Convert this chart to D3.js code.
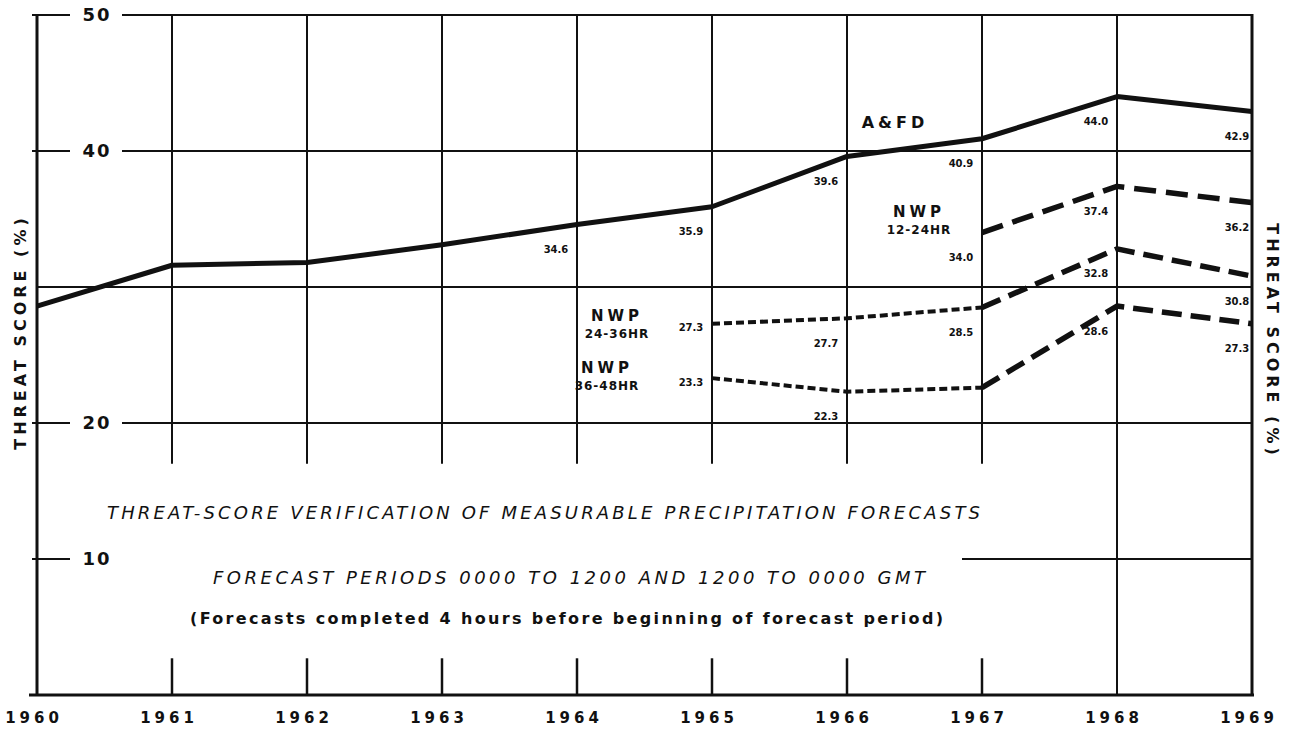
<!DOCTYPE html>
<html>
<head>
<meta charset="utf-8">
<script src="https://cdn.jsdelivr.net/npm/d3@7"></script>
<style>
  body { margin: 0; background: #fff; }
  svg text { font-family: "DejaVu Sans", sans-serif; fill: #111; }
</style>
</head>
<body>
<div id="vis"></div>
<script>
var width = 1290;
var height = 733;

// data
var years = [1960, 1961, 1962, 1963, 1964, 1965, 1966, 1967, 1968, 1969];
var afd = [28.6, 31.6, 31.8, 33.1, 34.6, 35.9, 39.6, 40.9, 44.0, 42.9];
var afd_labels = ["", "", "", "", "34.6", "35.9", "39.6", "40.9", "44.0", "42.9"];

var nwp12_years = [1967, 1968, 1969];
var nwp12 = [34.0, 37.4, 36.2];
var nwp12_labels = ["34.0", "37.4", "36.2"];

var nwp24_years = [1965, 1966, 1967, 1968, 1969];
var nwp24 = [27.3, 27.7, 28.5, 32.8, 30.8];
var nwp24_labels = ["27.3", "27.7", "28.5", "32.8", "30.8"];

var nwp36_years = [1965, 1966, 1967, 1968, 1969];
var nwp36 = [23.3, 22.3, 22.6, 28.6, 27.3];
var nwp36_labels = ["23.3", "22.3", "", "28.6", "27.3"];

var y_ticks = [10, 20, 40, 50];
var grid_values = [10, 20, 30, 40, 50];

var title_lines = [
  "THREAT-SCORE VERIFICATION OF MEASURABLE PRECIPITATION FORECASTS",
  "FORECAST PERIODS 0000 TO 1200 AND 1200 TO 0000 GMT",
  "(Forecasts completed 4 hours before beginning of forecast period)"
];

var x = d3.scaleLinear().domain([1960, 1969]).range([37, 1252]);
var y = d3.scaleLinear().domain([0, 50]).range([695, 15]);

var svg = d3.select("#vis").append("svg")
  .attr("width", width)
  .attr("height", height);

var grid = svg.append("g").attr("stroke", "#111").attr("fill", "none");

// horizontal grid lines, broken where the left tick labels sit
grid_values.forEach(function(v){
  if (v === 30) {
    grid.append("line")
      .attr("x1", x(1960)).attr("x2", x(1969))
      .attr("y1", y(v)).attr("y2", y(v))
      .attr("stroke-width", 2);
    return;
  }
  grid.append("line")
    .attr("x1", x(1960) - 5).attr("x2", x(1960) + 33)
    .attr("y1", y(v)).attr("y2", y(v))
    .attr("stroke-width", 2);
  var restart = v === 10 ? x(1966) + 115 : x(1960) + 85;
  grid.append("line")
    .attr("x1", restart).attr("x2", x(1969))
    .attr("y1", y(v)).attr("y2", y(v))
    .attr("stroke-width", 2);
});

// vertical grid lines: upper part plus a short stub at the bottom
d3.range(1961, 1968).forEach(function(yr){
  grid.append("line")
    .attr("x1", x(yr)).attr("x2", x(yr))
    .attr("y1", y(50)).attr("y2", y(17))
    .attr("stroke-width", 2);
  grid.append("line")
    .attr("x1", x(yr)).attr("x2", x(yr))
    .attr("y1", y(2.7)).attr("y2", y(0))
    .attr("stroke-width", 2.5);
});
grid.append("line")
  .attr("x1", x(1968)).attr("x2", x(1968))
  .attr("y1", y(50)).attr("y2", y(0))
  .attr("stroke-width", 2);

// frame
grid.append("line")
  .attr("x1", x(1960)).attr("x2", x(1960))
  .attr("y1", y(50) - 1).attr("y2", y(0) + 1)
  .attr("stroke-width", 3);
grid.append("line")
  .attr("x1", x(1969)).attr("x2", x(1969))
  .attr("y1", y(50) - 1).attr("y2", y(0) + 1)
  .attr("stroke-width", 3);
grid.append("line")
  .attr("x1", x(1960) - 8).attr("x2", x(1969) + 2)
  .attr("y1", y(0)).attr("y2", y(0))
  .attr("stroke-width", 3);

// y tick labels
svg.selectAll(".ytick")
  .data(y_ticks)
  .enter().append("text")
  .attr("class", "ytick")
  .attr("x", x(1960) + 60)
  .attr("y", d => y(d))
  .attr("dy", "0.36em")
  .attr("text-anchor", "middle")
  .style("font-size", "18px")
  .style("font-weight", "bold")
  .style("letter-spacing", "2px")
  .text(d => d);

// x tick labels
svg.selectAll(".xtick")
  .data(years)
  .enter().append("text")
  .attr("class", "xtick")
  .attr("x", d => x(d) - 3)
  .attr("y", 723)
  .attr("text-anchor", "middle")
  .style("font-size", "15px")
  .style("font-weight", "bold")
  .style("letter-spacing", "4px")
  .text(d => d);

// axis titles
svg.append("text")
  .attr("transform", "translate(26,332) rotate(-90)")
  .attr("text-anchor", "middle")
  .style("font-size", "16px")
  .style("font-weight", "bold")
  .style("letter-spacing", "4px")
  .text("THREAT SCORE (%)");
svg.append("text")
  .attr("transform", "translate(1267,341) rotate(90)")
  .attr("text-anchor", "middle")
  .style("font-size", "16px")
  .style("font-weight", "bold")
  .style("letter-spacing", "4px")
  .text("THREAT SCORE (%)");

// series
var line = d3.line()
  .x(d => x(d[0]))
  .y(d => y(d[1]));

function pairs(xs, vs){
  return xs.map(function(yr, i){ return [yr, vs[i]]; });
}

var lines = svg.append("g").attr("fill", "none").attr("stroke", "#111")
  .attr("stroke-linejoin", "round");

lines.append("path")
  .attr("d", line(pairs(years, afd)))
  .attr("stroke-width", 5);

lines.append("path")
  .attr("d", line(pairs(nwp12_years, nwp12)))
  .attr("stroke-width", 5.5)
  .attr("stroke-dasharray", "22,10");

[nwp24, nwp36].forEach(function(vals){
  var pts = pairs(nwp24_years, vals);
  lines.append("path")
    .attr("d", line(pts.filter(d => d[0] <= 1967)))
    .attr("stroke-width", 4)
    .attr("stroke-dasharray", "8,4");
  lines.append("path")
    .attr("d", line(pts.filter(d => d[0] >= 1967)))
    .attr("stroke-width", 5.5)
    .attr("stroke-dasharray", "20,9");
});

// value labels
function add_labels(xs, vs, labels, first_left){
  svg.append("g").selectAll("text")
    .data(pairs(xs, vs).map(function(d, i){ return [d[0], d[1], labels[i], i]; }))
    .enter().append("text")
    .attr("x", d => x(d[0]) - (d[0] === 1969 ? 15 : 21))
    .attr("y", function(d){
      if (first_left && d[3] === 0) return y(d[1]) + 4;
      return y(d[1]) + 25;
    })
    .attr("dy", "0.35em")
    .attr("text-anchor", "middle")
    .style("font-size", "10px")
    .style("font-weight", "bold")
    .text(d => d[2]);
}
add_labels(years, afd, afd_labels, false);
add_labels(nwp12_years, nwp12, nwp12_labels, false);
add_labels(nwp24_years, nwp24, nwp24_labels, true);
add_labels(nwp36_years, nwp36, nwp36_labels, true);

// series names
function series_name(lines_txt, cx, cy, sizes){
  lines_txt.forEach(function(t, i){
    svg.append("text")
      .attr("x", cx)
      .attr("y", cy + i * 18)
      .attr("dy", "0.35em")
      .attr("text-anchor", "middle")
      .style("font-size", sizes[i] + "px")
      .style("font-weight", "bold")
      .style("letter-spacing", i === 0 ? "4px" : "1px")
      .text(t);
  });
}
series_name(["A&FD"], x(1966) + 48, y(44.0) + 26, [16]);
series_name(["NWP", "12-24HR"], x(1966) + 72, y(35.8) + 4, [15, 12]);
series_name(["NWP", "24-36HR"], x(1964) + 40, y(27.3) - 8, [15, 12]);
series_name(["NWP", "36-48HR"], x(1964) + 30, y(23.3) - 10, [15, 12]);

// titles
var title_layout = [
  {x0: 107, x1: 980, y: 513, italic: true, size: 18},
  {x0: 213, x1: 925, y: 578, italic: true, size: 18},
  {x0: 190, x1: 943, y: 618, italic: false, size: 16}
];
title_lines.forEach(function(t, i){
  var l = title_layout[i];
  svg.append("text")
    .attr("x", l.x0)
    .attr("y", l.y)
    .attr("dy", "0.35em")
    .attr("textLength", l.x1 - l.x0)
    .attr("lengthAdjust", "spacing")
    .style("font-size", l.size + "px")
    .style("font-style", l.italic ? "italic" : "normal")
    .style("font-weight", i === 2 ? "bold" : "normal")
    .text(t);
});
</script>
</body>
</html>
